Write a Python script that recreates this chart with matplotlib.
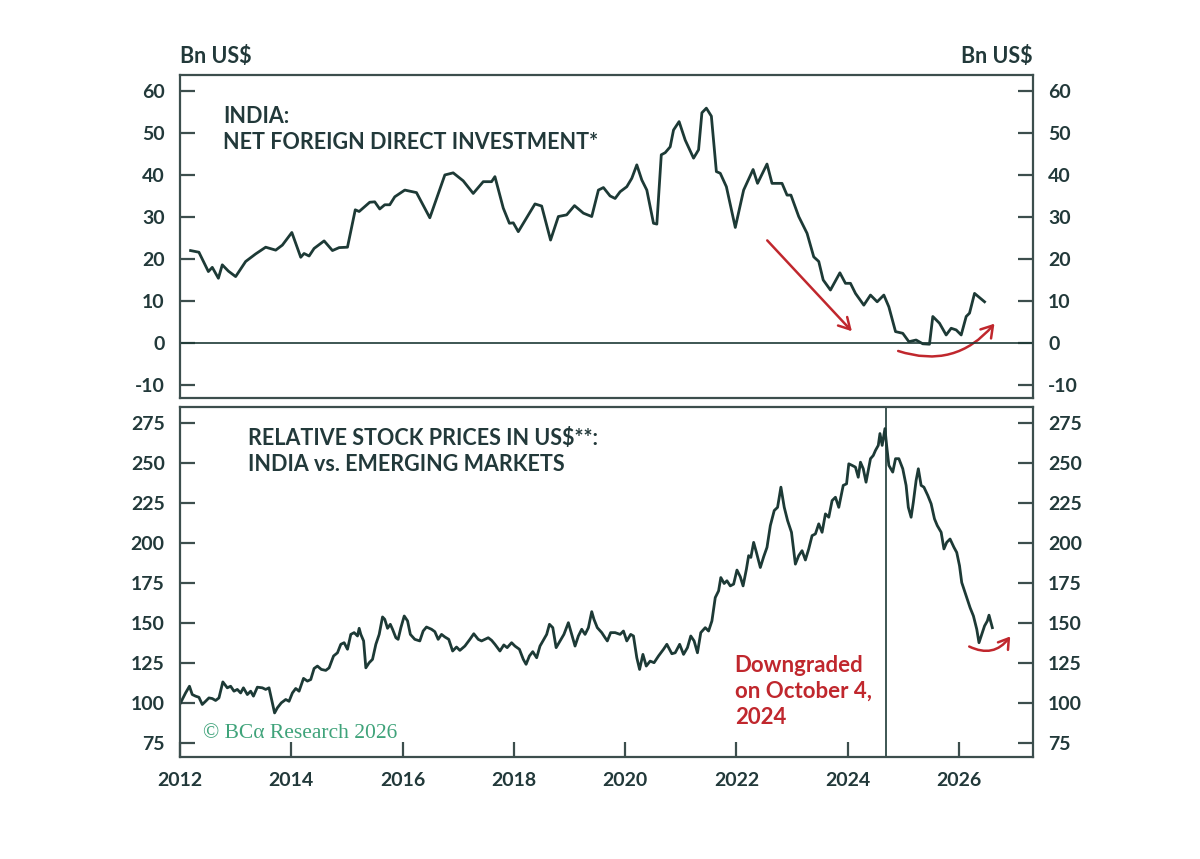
import matplotlib
matplotlib.use("Agg")
import matplotlib.pyplot as plt
from matplotlib.patches import FancyArrowPatch

# India net FDI, Bn US$
fdi_t = [2012.19, 2012.34, 2012.51, 2012.58, 2012.69, 2012.76, 2012.87, 2013.00, 2013.18, 2013.36,
         2013.54, 2013.72, 2013.84, 2014.01, 2014.17, 2014.23, 2014.32, 2014.41, 2014.59, 2014.74,
         2014.86, 2015.01, 2015.15, 2015.22, 2015.41, 2015.50, 2015.59, 2015.68, 2015.77, 2015.86,
         2016.04, 2016.25, 2016.49, 2016.76, 2016.91, 2017.09, 2017.27, 2017.45, 2017.60, 2017.66,
         2017.81, 2017.92, 2017.99, 2018.08, 2018.38, 2018.50, 2018.66, 2018.80, 2018.95, 2019.09,
         2019.25, 2019.40, 2019.52, 2019.61, 2019.73, 2019.82, 2019.91, 2020.03, 2020.12, 2020.21,
         2020.30, 2020.39, 2020.51, 2020.57, 2020.65, 2020.72, 2020.81, 2020.87, 2020.97, 2021.08,
         2021.23, 2021.32, 2021.38, 2021.46, 2021.55, 2021.64, 2021.71, 2021.82, 2021.98, 2022.13,
         2022.30, 2022.38, 2022.55, 2022.64, 2022.82, 2022.91, 2022.98, 2023.12, 2023.27, 2023.39,
         2023.48, 2023.56, 2023.69, 2023.86, 2023.96, 2024.05, 2024.14, 2024.29, 2024.41, 2024.53,
         2024.65, 2024.74, 2024.86, 2024.99, 2025.10, 2025.23, 2025.35, 2025.47, 2025.53, 2025.65,
         2025.77, 2025.86, 2025.95, 2026.04, 2026.13, 2026.19, 2026.28, 2026.46]
fdi_v = [22.0, 21.6, 17.0, 18.0, 15.4, 18.6, 17.1, 15.8, 19.4, 21.2,
         22.8, 22.1, 23.3, 26.3, 20.4, 21.3, 20.7, 22.5, 24.3, 22.0,
         22.7, 22.8, 31.7, 31.3, 33.5, 33.6, 31.9, 32.9, 32.9, 34.8,
         36.4, 35.8, 29.8, 40.0, 40.5, 38.6, 35.6, 38.4, 38.4, 39.6,
         32.1, 28.5, 28.6, 26.5, 33.1, 32.6, 24.5, 30.1, 30.5, 32.7,
         30.9, 30.1, 36.4, 37.0, 35.0, 34.4, 36.0, 37.2, 39.2, 42.4,
         38.8, 36.4, 28.5, 28.3, 44.8, 45.3, 46.7, 50.7, 52.7, 48.3,
         44.0, 46.0, 54.8, 55.9, 54.0, 40.8, 40.4, 37.2, 27.5, 36.4,
         41.3, 38.0, 42.6, 38.0, 38.0, 35.2, 35.2, 30.1, 26.1, 20.5,
         19.4, 15.0, 12.6, 16.7, 14.2, 14.2, 11.8, 9.0, 11.4, 9.8,
         11.4, 8.6, 2.7, 2.3, 0.3, 0.7, -0.2, -0.3, 6.3, 4.7,
         1.9, 3.5, 3.1, 1.9, 6.3, 7.1, 11.8, 9.8]

# India vs EM relative stock prices in US$
rel_t = [2012.01, 2012.10, 2012.17, 2012.22, 2012.28, 2012.34, 2012.40, 2012.46, 2012.52, 2012.58,
         2012.64, 2012.70, 2012.77, 2012.85, 2012.91, 2012.97, 2013.03, 2013.09, 2013.14, 2013.21,
         2013.27, 2013.32, 2013.39, 2013.48, 2013.54, 2013.60, 2013.66, 2013.70, 2013.75, 2013.82,
         2013.90, 2013.96, 2014.02, 2014.08, 2014.14, 2014.22, 2014.29, 2014.35, 2014.41, 2014.47,
         2014.54, 2014.62, 2014.68, 2014.76, 2014.83, 2014.89, 2014.95, 2015.01, 2015.07, 2015.13,
         2015.19, 2015.22, 2015.25, 2015.30, 2015.34, 2015.40, 2015.46, 2015.52, 2015.58, 2015.64,
         2015.68, 2015.73, 2015.78, 2015.82, 2015.88, 2015.92, 2015.97, 2016.03, 2016.09, 2016.14,
         2016.22, 2016.31, 2016.37, 2016.43, 2016.52, 2016.58, 2016.64, 2016.70, 2016.76, 2016.83,
         2016.90, 2016.97, 2017.03, 2017.12, 2017.21, 2017.28, 2017.36, 2017.42, 2017.48, 2017.54,
         2017.60, 2017.66, 2017.75, 2017.82, 2017.88, 2017.96, 2018.02, 2018.10, 2018.17, 2018.22,
         2018.28, 2018.34, 2018.41, 2018.47, 2018.54, 2018.59, 2018.64, 2018.70, 2018.76, 2018.83,
         2018.90, 2018.98, 2019.04, 2019.10, 2019.16, 2019.22, 2019.28, 2019.34, 2019.40, 2019.44,
         2019.50, 2019.58, 2019.64, 2019.68, 2019.74, 2019.82, 2019.91, 2019.97, 2020.03, 2020.10,
         2020.15, 2020.21, 2020.26, 2020.32, 2020.38, 2020.45, 2020.52, 2020.60, 2020.69, 2020.75,
         2020.84, 2020.90, 2020.98, 2021.05, 2021.12, 2021.18, 2021.24, 2021.30, 2021.36, 2021.44,
         2021.50, 2021.56, 2021.62, 2021.68, 2021.72, 2021.78, 2021.83, 2021.89, 2021.95, 2022.01,
         2022.07, 2022.12, 2022.18, 2022.22, 2022.26, 2022.31, 2022.36, 2022.43, 2022.49, 2022.55,
         2022.61, 2022.68, 2022.74, 2022.80, 2022.86, 2022.92, 2022.99, 2023.06, 2023.12, 2023.18,
         2023.24, 2023.30, 2023.36, 2023.42, 2023.48, 2023.54, 2023.60, 2023.66, 2023.72, 2023.78,
         2023.84, 2023.92, 2023.98, 2024.02, 2024.08, 2024.14, 2024.19, 2024.23, 2024.28, 2024.33,
         2024.37, 2024.41, 2024.46, 2024.50, 2024.55, 2024.58, 2024.62, 2024.67, 2024.70, 2024.74,
         2024.81, 2024.86, 2024.92, 2024.99, 2025.05, 2025.09, 2025.14, 2025.18, 2025.23, 2025.27,
         2025.32, 2025.37, 2025.44, 2025.50, 2025.56, 2025.61, 2025.68, 2025.73, 2025.78, 2025.84,
         2025.91, 2025.96, 2026.01, 2026.05, 2026.10, 2026.14, 2026.20, 2026.26, 2026.32, 2026.36,
         2026.40, 2026.46, 2026.51, 2026.54, 2026.60]
rel_v = [100.1, 106.3, 110.5, 105.3, 104.3, 103.6, 99.1, 101.1, 103.2, 102.8,
         101.6, 103.2, 113.2, 109.5, 110.5, 107.4, 108.5, 106.3, 109.5, 105.3,
         107.4, 104.3, 109.9, 109.5, 108.5, 109.5, 100.1, 93.8, 97.0, 100.1,
         102.2, 101.1, 106.3, 109.1, 107.4, 115.4, 113.7, 114.7, 121.6, 123.1,
         121.0, 120.4, 122.0, 129.4, 131.4, 136.7, 137.7, 133.6, 142.9, 144.0,
         141.9, 146.7, 142.9, 138.8, 122.0, 125.2, 127.3, 136.7, 142.9, 153.8,
         152.3, 146.7, 149.2, 146.1, 140.8, 139.8, 147.1, 154.4, 151.3, 142.9,
         139.8, 138.8, 145.0, 147.5, 146.1, 144.6, 139.8, 142.9, 141.3, 139.8,
         132.5, 135.0, 132.9, 135.6, 139.8, 143.3, 139.8, 138.8, 139.8, 140.8,
         139.2, 136.7, 132.5, 136.3, 134.6, 137.7, 135.6, 133.6, 127.3, 124.2,
         129.4, 132.1, 128.3, 135.6, 139.8, 142.9, 149.2, 147.1, 134.6, 138.8,
         142.9, 150.2, 142.9, 135.6, 141.9, 146.1, 142.9, 147.1, 157.1, 152.3,
         147.1, 144.0, 140.8, 138.8, 144.0, 144.0, 142.9, 145.0, 138.8, 142.9,
         141.9, 128.3, 121.0, 130.4, 123.1, 126.2, 125.2, 129.4, 133.6, 136.7,
         130.8, 131.4, 136.7, 130.4, 134.6, 141.9, 138.8, 131.4, 144.0, 147.1,
         145.0, 151.3, 165.9, 170.1, 178.4, 174.7, 176.4, 173.2, 174.3, 183.1,
         178.9, 173.2, 183.7, 192.1, 191.0, 200.4, 194.1, 184.7, 191.4, 197.3,
         210.9, 220.3, 222.3, 234.9, 222.3, 214.0, 206.7, 186.8, 192.1, 195.2,
         189.4, 196.3, 204.6, 205.7, 212.0, 206.7, 218.2, 216.1, 226.5, 228.6,
         222.3, 236.0, 237.0, 249.5, 248.5, 247.4, 241.1, 250.5, 246.4, 238.0,
         245.3, 252.7, 254.7, 257.9, 261.0, 268.4, 261.0, 271.5, 261.0, 248.5,
         244.3, 252.7, 252.7, 246.4, 236.0, 222.3, 216.1, 225.5, 239.1, 246.4,
         236.0, 234.9, 229.7, 224.5, 215.1, 210.9, 206.7, 196.3, 200.4, 202.5,
         197.3, 194.1, 185.8, 175.3, 170.1, 165.9, 159.6, 154.4, 146.1, 137.7,
         141.9, 148.2, 151.3, 154.9, 147.1]

downgrade_date = 2024.68
year_ticks = [2012, 2014, 2016, 2018, 2020, 2022, 2024, 2026]
fdi_ticks = [-10, 0, 10, 20, 30, 40, 50, 60]
rel_ticks = [75, 100, 125, 150, 175, 200, 225, 250, 275]

line_col = "#1d3a36"
frame_col = "#3c4e4d"
text_col = "#22393a"
red = "#c0272d"

plt.rcParams["font.family"] = ["Lato", "DejaVu Sans"]

fig = plt.figure(figsize=(12, 8.59), dpi=100)
ax1 = fig.add_axes([0.15, 0.5367, 0.7108, 0.376])
ax2 = fig.add_axes([0.15, 0.1187, 0.7108, 0.4075])

for ax in (ax1, ax2):
    ax.set_xlim(2012, 2027.33)
    ax.set_xticks(year_ticks)
    for s in ax.spines.values():
        s.set_color(frame_col)
        s.set_linewidth(1.6)
    ax.tick_params(axis="y", which="both", direction="in", length=11, width=1.6,
                   color=frame_col, left=True, right=True, labelleft=True, labelright=True,
                   labelsize=14, labelcolor=text_col, pad=11)

ax1.plot(fdi_t, fdi_v, color=line_col, lw=2.0)
ax1.axhline(0, color=line_col, lw=1.2)
ax1.set_ylim(-13.1, 63.8)
ax1.set_yticks(fdi_ticks)
ax1.set_yticklabels([str(v) for v in fdi_ticks], fontweight="bold")
ax1.tick_params(axis="x", bottom=False, labelbottom=False)
ax1.text(0.0504, 0.905, "INDIA:\nNET FOREIGN DIRECT INVESTMENT*", transform=ax1.transAxes,
         fontsize=15.5, color=text_col, fontweight="bold", va="top", linespacing=1.3)

ax1.annotate("", xy=(2024.11, 2.3), xytext=(2022.52, 24.9),
             arrowprops=dict(arrowstyle="->,head_length=0.8,head_width=0.45", color=red, lw=1.8))
ax1.add_patch(FancyArrowPatch((2024.86, -1.7), (2026.67, 5.1),
                              connectionstyle="arc3,rad=0.35",
                              arrowstyle="->,head_length=8,head_width=5", color=red, lw=1.8))

ax2.plot(rel_t, rel_v, color=line_col, lw=2.0)
ax2.axvline(downgrade_date, color=line_col, lw=1.2)
ax2.set_ylim(66.25, 285)
ax2.set_yticks(rel_ticks)
ax2.set_yticklabels([str(v) for v in rel_ticks], fontweight="bold")
ax2.tick_params(axis="x", direction="in", length=11, width=1.6, color=frame_col,
                labelsize=14, labelcolor=text_col, pad=11)
ax2.set_xticklabels([str(y) for y in year_ticks], fontweight="bold")
ax2.text(0.0797, 0.94, "RELATIVE STOCK PRICES IN US$**:\nINDIA vs. EMERGING MARKETS",
         transform=ax2.transAxes, fontsize=15.5, color=text_col, fontweight="bold",
         va="top", linespacing=1.3)
ax2.text(2021.97, 130, "Downgraded\non October 4,\n2024", fontsize=16, color=red,
         fontweight="bold", va="top", linespacing=1.3)
ax2.add_patch(FancyArrowPatch((2026.14, 136.1), (2026.95, 143.0),
                              connectionstyle="arc3,rad=0.45",
                              arrowstyle="->,head_length=7,head_width=4.5", color=red, lw=1.8))
ax2.text(2012.42, 78, "© BCα Research 2026", fontsize=15.5, color="#3fa37a",
         family=["Liberation Serif", "DejaVu Serif"], va="baseline")

fig.text(0.15, 0.922, "Bn US$", fontsize=15.5, color=text_col, fontweight="bold", ha="left", va="bottom")
fig.text(0.8608, 0.922, "Bn US$", fontsize=15.5, color=text_col, fontweight="bold", ha="right", va="bottom")

fig.savefig("out.png", dpi=100, facecolor="white")
